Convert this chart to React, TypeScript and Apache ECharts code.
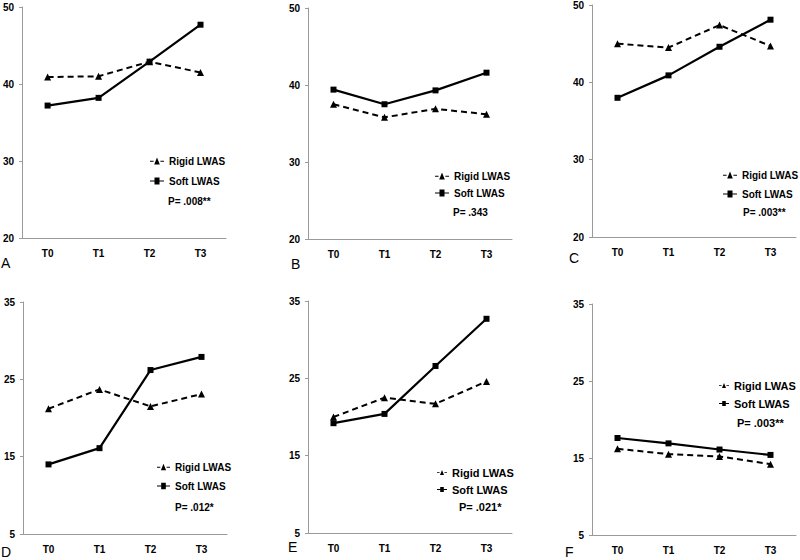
import React, { useEffect, useRef } from "react";
import * as echarts from "echarts";

const categories = ["T0", "T1", "T2", "T3"];

const rigidA = [40.9, 41.0, 42.9, 41.5];
const softA = [37.2, 38.2, 42.9, 47.7];
const rigidB = [37.5, 35.8, 36.9, 36.2];
const softB = [39.4, 37.5, 39.3, 41.6];
const rigidC = [45.0, 44.5, 47.4, 44.7];
const softC = [38.0, 40.9, 44.6, 48.1];
const rigidD = [21.2, 23.7, 21.5, 23.1];
const softD = [14.0, 16.1, 26.2, 27.9];
const rigidE = [20.0, 22.5, 21.7, 24.6];
const softE = [19.2, 20.4, 26.6, 32.7];
const rigidF = [16.2, 15.5, 15.2, 14.2];
const softF = [17.6, 16.9, 16.1, 15.4];

const panelLetters = ["A", "B", "C", "D", "E", "F"];
const pValues = ["P= .008**", "P= .343", "P= .003**", "P= .012*", "P= .021*", "P= .003**"];
const topTicks = { min: 20, max: 50, interval: 10 };
const bottomTicks = { min: 5, max: 35, interval: 10 };

const rigidData = [rigidA, rigidB, rigidC, rigidD, rigidE, rigidF];
const softData = [softA, softB, softC, softD, softE, softF];

const grids = [
  { left: 22, top: 7, width: 204, height: 231 },
  { left: 308, top: 8, width: 204, height: 231 },
  { left: 592, top: 5, width: 204, height: 232 },
  { left: 23, top: 302, width: 204, height: 232 },
  { left: 308, top: 301, width: 204, height: 232 },
  { left: 592, top: 304, width: 204, height: 231 },
];

const legendPos = [
  { left: 150, top: 155, gap: 8, iw: 14, fs: 10 },
  { left: 435, top: 170, gap: 5, iw: 14, fs: 10 },
  { left: 723, top: 169, gap: 7, iw: 14, fs: 10 },
  { left: 157, top: 461, gap: 7, iw: 13, fs: 10 },
  { left: 437, top: 466, gap: 4, iw: 10, fs: 11 },
  { left: 719, top: 379, gap: 5, iw: 10, fs: 11 },
];

const pPos = [
  { x: 168, y: 201, fs: 10 },
  { x: 453, y: 212, fs: 10 },
  { x: 743, y: 212, fs: 10 },
  { x: 175, y: 507, fs: 10 },
  { x: 459, y: 507, fs: 11 },
  { x: 737, y: 423, fs: 11 },
];

const letterPos = [
  { x: 1, y: 263 },
  { x: 291, y: 264 },
  { x: 569, y: 258 },
  { x: 1, y: 552 },
  { x: 288, y: 547 },
  { x: 565, y: 552 },
];

const FONT = "Liberation Sans, Arial, sans-serif";

const RIGID_ICON =
  "path://M0,3.2 L3.6,3.2 L3.6,4.3 L0,4.3 Z M4.2,7 L7,0 L9.8,7 Z M10.4,3.2 L14,3.2 L14,4.3 L10.4,4.3 Z";
const SOFT_ICON = "path://M0,2.9 L14,2.9 L14,4.1 L0,4.1 Z M4.5,0 L9.5,0 L9.5,7 L4.5,7 Z";

export default function App() {
  const ref = useRef<HTMLDivElement>(null);
  useEffect(() => {
    if (!ref.current) return;
    const chart = echarts.init(ref.current, null, { renderer: "svg" });
    const xAxis: any[] = [];
    const yAxis: any[] = [];
    const series: any[] = [];
    const legend: any[] = [];
    const graphic: any[] = [];
    grids.forEach((g, i) => {
      const ticks = i < 3 ? topTicks : bottomTicks;
      xAxis.push({
        type: "category",
        gridIndex: i,
        data: categories,
        boundaryGap: true,
        axisLine: { lineStyle: { color: "#9a9a9a", width: 1 } },
        axisTick: { alignWithLabel: true, length: 3, lineStyle: { color: "#9a9a9a" } },
        axisLabel: { color: "#000", fontWeight: "bold", fontSize: 10, fontFamily: FONT, margin: 10 },
        splitLine: { show: false },
      });
      yAxis.push({
        type: "value",
        gridIndex: i,
        min: ticks.min,
        max: ticks.max,
        interval: ticks.interval,
        axisLine: { show: true, lineStyle: { color: "#9a9a9a", width: 1 } },
        axisTick: { show: true, length: 3, lineStyle: { color: "#9a9a9a" } },
        axisLabel: { color: "#000", fontWeight: "bold", fontSize: 10, fontFamily: FONT, margin: 8 },
        splitLine: { show: false },
      });
      series.push({
        name: "Rigid LWAS",
        type: "line",
        xAxisIndex: i,
        yAxisIndex: i,
        data: rigidData[i],
        symbol: "triangle",
        symbolSize: 7,
        itemStyle: { color: "#000" },
        lineStyle: { color: "#000", width: 2, type: [6, 4] },
      });
      series.push({
        name: "Soft LWAS",
        type: "line",
        xAxisIndex: i,
        yAxisIndex: i,
        data: softData[i],
        symbol: "rect",
        symbolSize: 6,
        itemStyle: { color: "#000" },
        lineStyle: { color: "#000", width: 2.2 },
      });
      const lp = legendPos[i];
      legend.push({
        orient: "vertical",
        left: lp.left,
        top: lp.top,
        itemGap: lp.gap,
        itemWidth: lp.iw,
        itemHeight: 7,
        padding: 0,
        data: [
          { name: "Rigid LWAS", icon: RIGID_ICON },
          { name: "Soft LWAS", icon: SOFT_ICON },
        ],
        textStyle: { color: "#000", fontWeight: "bold", fontSize: lp.fs, fontFamily: FONT, lineHeight: lp.fs + 2 },
        selectedMode: false,
      });
      const pp = pPos[i];
      graphic.push({
        type: "text",
        x: pp.x,
        y: pp.y,
        style: {
          text: pValues[i],
          fill: "#000",
          font: `bold ${pp.fs}px ${FONT}`,
          textVerticalAlign: "middle",
        },
      });
      const lt = letterPos[i];
      graphic.push({
        type: "text",
        x: lt.x,
        y: lt.y,
        style: {
          text: panelLetters[i],
          fill: "#000",
          font: `14px ${FONT}`,
          textVerticalAlign: "middle",
        },
      });
    });
    chart.setOption({
      animation: false,
      backgroundColor: "#fff",
      grid: grids.map((g) => ({ ...g, containLabel: false })),
      xAxis,
      yAxis,
      series,
      legend,
      graphic,
    });
    return () => chart.dispose();
  }, []);
  return (
    <div
      ref={ref}
      style={{ position: "fixed", left: 0, top: 0, width: 800, height: 560, background: "#fff" }}
    />
  );
}
